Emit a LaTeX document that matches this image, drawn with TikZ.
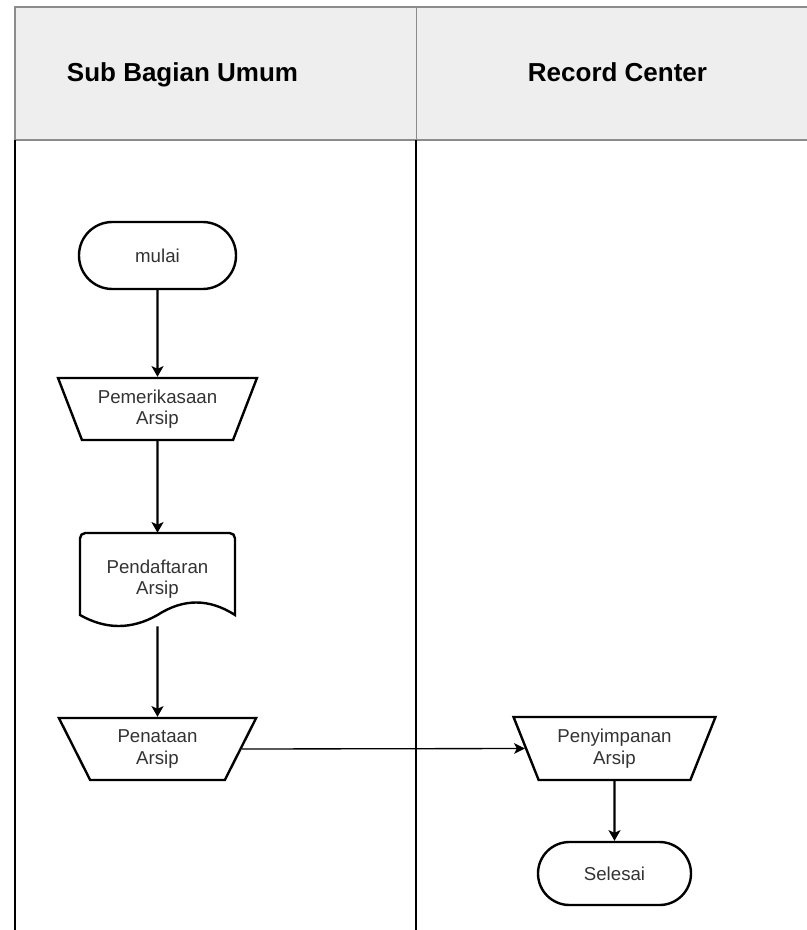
\documentclass[tikz,border=0pt]{standalone}
\usepackage{fontspec}
\setmainfont{Liberation Sans}
\usetikzlibrary{shapes.geometric,arrows.meta,calc}
\definecolor{hdrfill}{HTML}{EEEEEE}
\definecolor{hdrline}{HTML}{8C8C8C}
\definecolor{txt}{HTML}{333333}
\begin{document}
\begin{tikzpicture}[x=0.75pt,y=-0.75pt,
  box/.style={draw=black,line width=1.8pt,fill=white,text=txt,font=\fontsize{14}{16}\selectfont,align=center,inner sep=0pt},
  manual/.style={box,trapezium,trapezium left angle=64,trapezium right angle=64,shape border rotate=180,trapezium stretches=true},
  flow/.style={line width=1.6pt,-{Stealth[length=8pt,width=9pt,inset=2pt]}},
  flowthin/.style={line width=1pt,-{Stealth[length=8pt,width=8pt,inset=2pt]}},
  lane/.style={draw=black,line width=1.6pt},
  hdr/.style={font=\fontsize{19.5}{23}\selectfont\bfseries,text=black}]
\useasboundingbox (0,0) rectangle (806,930);
% header
\fill[hdrfill] (15,7) rectangle (830,140);
\draw[hdrline,line width=1.5pt] (830,7) -- (15,7) -- (15,140) -- (830,140);
\draw[hdrline,line width=0.75pt] (416,7) -- (416,140);
\node[hdr] (h1) at (182.5,75) {Sub Bagian Umum};
\node[hdr] (h2) at (617.5,72) {Record Center};
% lanes
\draw[lane] (15,140) -- (15,940);
\draw[lane] (416,140) -- (416,940);
% nodes
\node[box,rounded corners=25pt,minimum width=117.75pt,minimum height=50.25pt] (mulai) at (157.5,255.5) {mulai};
\node[manual,minimum width=149.25pt,minimum height=46.5pt] (pemer) at (157.5,409) {Pemerikasaan\\Arsip};
% document shape
\draw[line width=1.8pt,fill=white] (80,615) [rounded corners=4] -- (80,533) -- (235,533) [sharp corners] -- (235,615)
  .. controls (209.17,598.33) and (183.33,598.33) .. (157.5,615)
  .. controls (131.67,629.67) and (105.83,629.67) .. (80,615) -- cycle;
\node[text=txt,font=\fontsize{14}{16}\selectfont,align=center,inner sep=0pt,minimum width=116.25pt,minimum height=69.75pt] (pend) at (157.5,579.5) {Pendaftaran\\Arsip};
\node[manual,minimum width=149.25pt,minimum height=46.5pt] (penat) at (157.5,749) {Penataan\\Arsip};
\node[manual,minimum width=151.5pt,minimum height=47.25pt] (penyi) at (614.5,748.5) {Penyimpanan\\Arsip};
\node[box,rounded corners=23.6pt,minimum width=114.75pt,minimum height=47.25pt] (selesai) at (614.5,873.5) {Selesai};
% connectors
\draw[flow] (mulai.south) -- (pemer.north);
\draw[flow] (pemer.south) -- (pend.north);
\draw[flow] (pend.south) -- (penat.north);
\draw[flowthin] (penat.east) -- (penyi.west);
\draw[flow] (penyi.south) -- (selesai.north);
\end{tikzpicture}
\end{document}
